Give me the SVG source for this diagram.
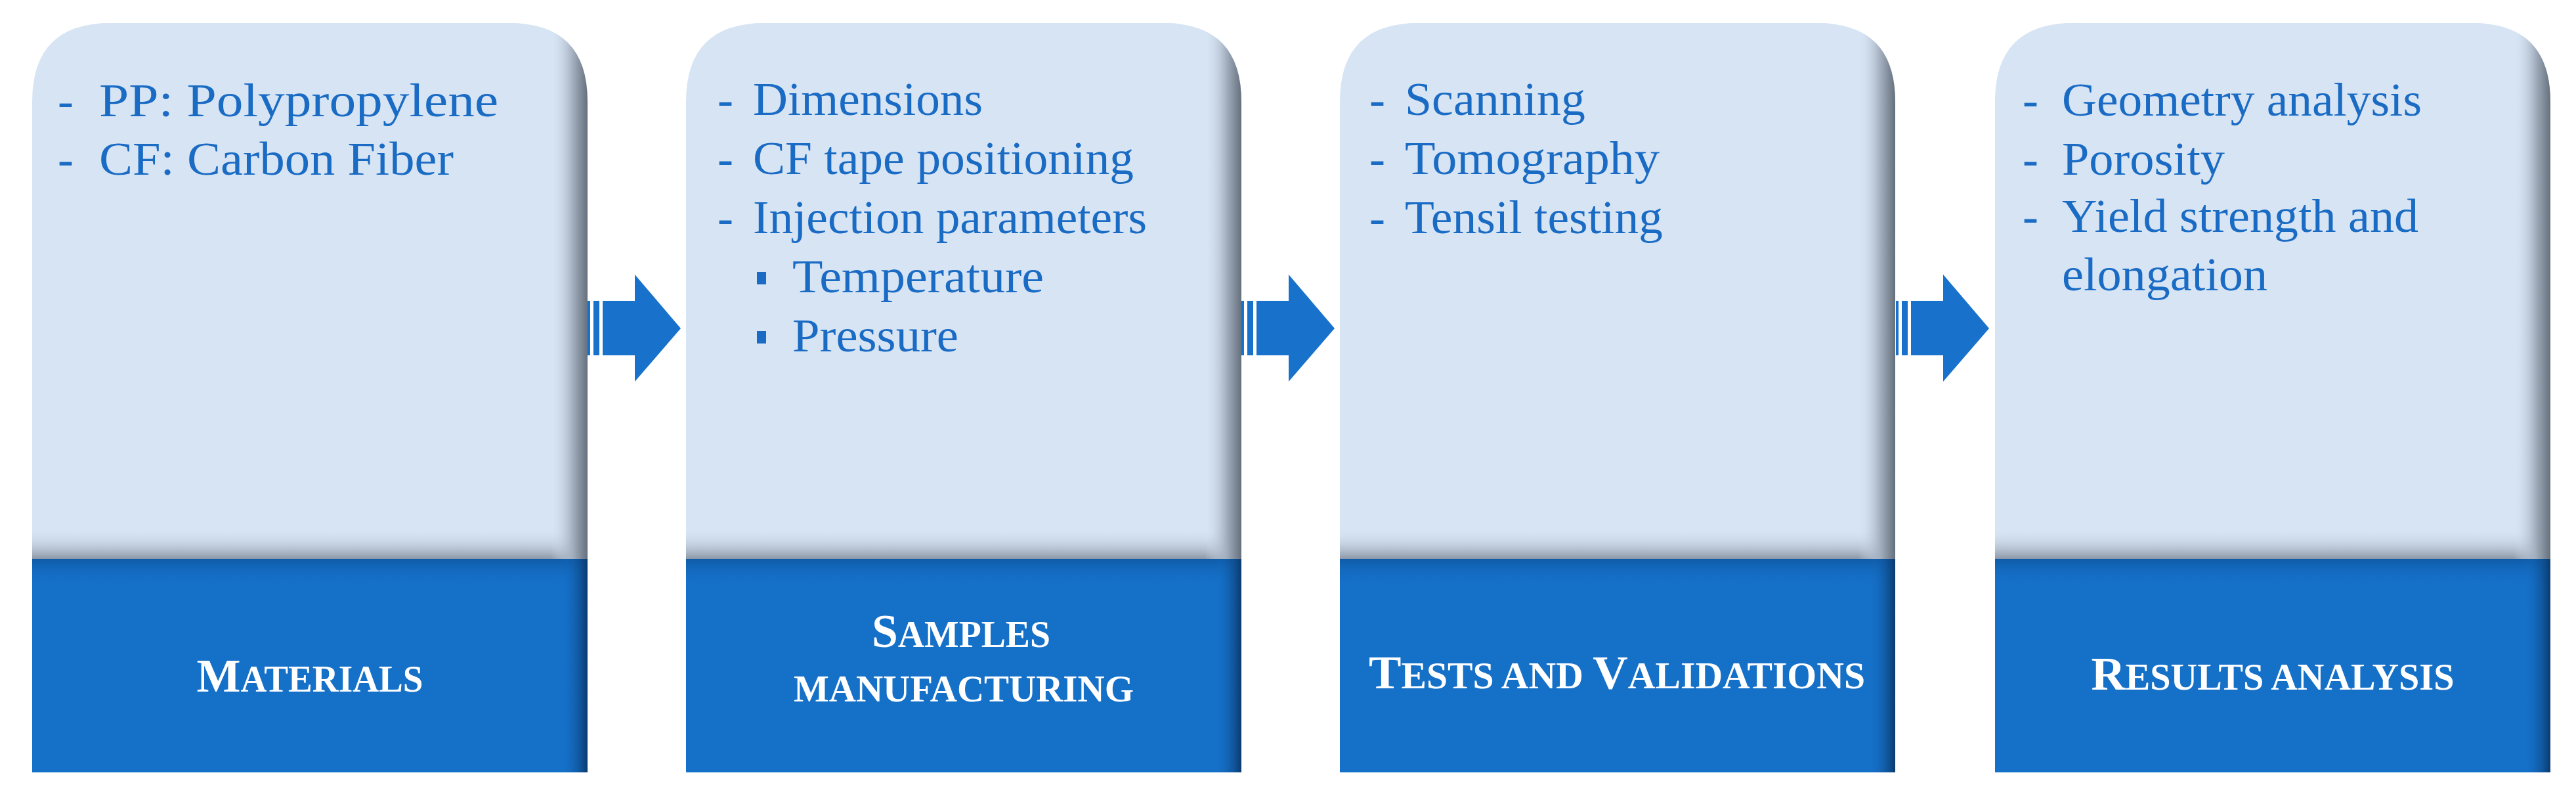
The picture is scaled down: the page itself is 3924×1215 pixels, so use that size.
<svg xmlns="http://www.w3.org/2000/svg" width="3924" height="1215" viewBox="0 0 3924 1215">
<defs>
<style>
.it{font-family:"Liberation Serif","DejaVu Serif",serif;font-size:72px;fill:#1A6BC4}
.lb{font-family:"Liberation Serif","DejaVu Serif",serif;font-weight:bold;fill:#FFFFFF;text-anchor:middle}
.big{font-size:72px}
.sm{font-size:56px}
.ar{fill:#1872CC}
</style>
<clipPath id="cc"><path d="M0,120 Q0,0 120,0 H726 Q846,0 846,120 V1141 H0 Z"/></clipPath>
<linearGradient id="rs" x1="0" y1="0" x2="1" y2="0"><stop offset="0" stop-color="#D7E4F4" stop-opacity="0"/><stop offset="0.6" stop-color="#A2AEBD"/><stop offset="1" stop-color="#65707D"/></linearGradient>
<linearGradient id="bs" x1="0" y1="0" x2="0" y2="1"><stop offset="0" stop-color="#D7E4F4" stop-opacity="0"/><stop offset="1" stop-color="#8C98A8"/></linearGradient>
<linearGradient id="br" x1="0" y1="0" x2="1" y2="0"><stop offset="0" stop-color="#1570C8" stop-opacity="0"/><stop offset="1" stop-color="#0A3A6E"/></linearGradient>
<linearGradient id="bt" x1="0" y1="0" x2="0" y2="1"><stop offset="0" stop-color="#0F5BA8"/><stop offset="1" stop-color="#1570C8" stop-opacity="0"/></linearGradient>
<g id="card">
<g clip-path="url(#cc)">
<rect x="0" y="0" width="846" height="816" fill="#D7E4F4"/>
<rect x="0" y="0" width="846" height="1" fill="#D7E4F4"/>
<rect x="0" y="770" width="846" height="46" fill="url(#bs)"/>
<path d="M790,0 H846 V816 H790 Z" fill="url(#rs)"/>
<rect x="0" y="816" width="846" height="325" fill="#1570C8"/>
<rect x="0" y="816" width="846" height="40" fill="url(#bt)"/>
<rect x="806" y="816" width="40" height="325" fill="url(#br)"/>
</g>
</g>
</defs>

<g id="connectors">
<g transform="translate(0,0)"><rect class="ar" x="895" y="458" width="4" height="83"/><rect class="ar" x="904" y="458" width="9" height="83"/><polygon class="ar" points="918,458 967,458 967,418 1037,500 967,581 967,541 918,541"/></g>
<g transform="translate(996,0)"><rect class="ar" x="895" y="458" width="4" height="83"/><rect class="ar" x="904" y="458" width="9" height="83"/><polygon class="ar" points="918,458 967,458 967,418 1037,500 967,581 967,541 918,541"/></g>
<g transform="translate(1993,0)"><rect class="ar" x="895" y="458" width="4" height="83"/><rect class="ar" x="904" y="458" width="9" height="83"/><polygon class="ar" points="918,458 967,458 967,418 1037,500 967,581 967,541 918,541"/></g>
</g>

<g id="materials">
<use href="#card" transform="translate(49,35)"/>
<text class="it" x="88" y="177">-</text>
<text class="it" x="151" y="177" textLength="608" lengthAdjust="spacingAndGlyphs">PP: Polypropylene</text>
<text class="it" x="88" y="266">-</text>
<text class="it" x="151" y="266" textLength="540" lengthAdjust="spacingAndGlyphs">CF: Carbon Fiber</text>
<text class="lb" x="472" y="1053" textLength="345" lengthAdjust="spacingAndGlyphs"><tspan class="big">M</tspan><tspan class="sm">ATERIALS</tspan></text>
</g>

<g id="samples">
<use href="#card" transform="translate(1045,35)"/>
<text class="it" x="1093" y="175">-</text>
<text class="it" x="1147" y="175" textLength="350" lengthAdjust="spacingAndGlyphs">Dimensions</text>
<text class="it" x="1093" y="265">-</text>
<text class="it" x="1147" y="265" textLength="580" lengthAdjust="spacingAndGlyphs">CF tape positioning</text>
<text class="it" x="1093" y="355">-</text>
<text class="it" x="1147" y="355" textLength="600" lengthAdjust="spacingAndGlyphs">Injection parameters</text>
<rect x="1153" y="414" width="14" height="19" fill="#1A6BC4"/>
<text class="it" x="1207" y="445" textLength="383" lengthAdjust="spacingAndGlyphs">Temperature</text>
<rect x="1153" y="504" width="14" height="19" fill="#1A6BC4"/>
<text class="it" x="1207" y="535" textLength="253" lengthAdjust="spacingAndGlyphs">Pressure</text>
<text class="lb" x="1464" y="985" textLength="272" lengthAdjust="spacingAndGlyphs"><tspan class="big">S</tspan><tspan class="sm">AMPLES</tspan></text>
<text class="lb sm" x="1468" y="1068" textLength="518" lengthAdjust="spacingAndGlyphs">MANUFACTURING</text>
</g>

<g id="tests">
<use href="#card" transform="translate(2041,35)"/>
<text class="it" x="2086" y="175">-</text>
<text class="it" x="2140" y="175" textLength="275" lengthAdjust="spacingAndGlyphs">Scanning</text>
<text class="it" x="2086" y="265">-</text>
<text class="it" x="2140" y="265" textLength="388" lengthAdjust="spacingAndGlyphs">Tomography</text>
<text class="it" x="2086" y="355">-</text>
<text class="it" x="2140" y="355" textLength="393" lengthAdjust="spacingAndGlyphs">Tensil testing</text>
<text class="lb" x="2463" y="1048" textLength="756" lengthAdjust="spacingAndGlyphs"><tspan class="big">T</tspan><tspan class="sm">ESTS AND </tspan><tspan class="big">V</tspan><tspan class="sm">ALIDATIONS</tspan></text>
</g>

<g id="results">
<use href="#card" transform="translate(3039,35)"/>
<text class="it" x="3081" y="176">-</text>
<text class="it" x="3141" y="176" textLength="548" lengthAdjust="spacingAndGlyphs">Geometry analysis</text>
<text class="it" x="3081" y="266">-</text>
<text class="it" x="3141" y="266" textLength="248" lengthAdjust="spacingAndGlyphs">Porosity</text>
<text class="it" x="3081" y="353">-</text>
<text class="it" x="3141" y="353" textLength="543" lengthAdjust="spacingAndGlyphs">Yield strength and</text>
<text class="it" x="3141" y="442" textLength="313" lengthAdjust="spacingAndGlyphs">elongation</text>
<text class="lb" x="3462" y="1050" textLength="553" lengthAdjust="spacingAndGlyphs"><tspan class="big">R</tspan><tspan class="sm">ESULTS ANALYSIS</tspan></text>
</g>
</svg>
